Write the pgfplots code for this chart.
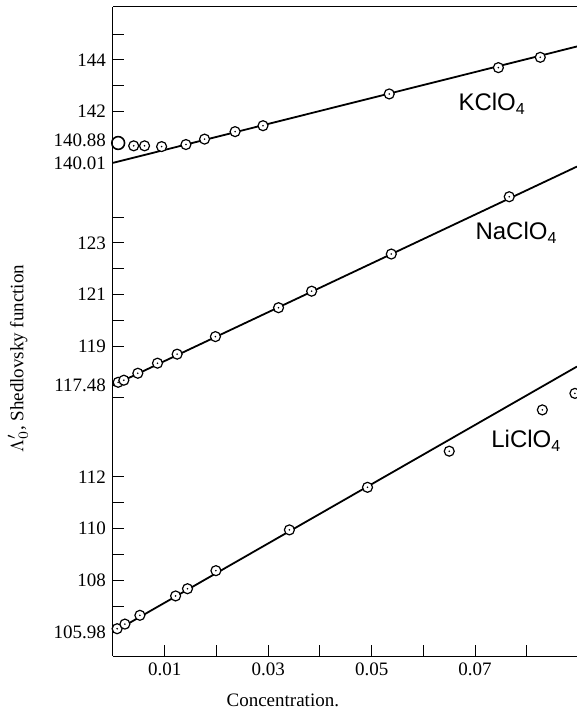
\documentclass[border=0pt]{standalone}
\usepackage{fontspec}
\setmainfont{Liberation Serif}
\newfontfamily\chemfont{Liberation Sans}
\usepackage{pgfplots}
\usepackage{pgfplotstable}
\pgfplotsset{compat=1.18}

% circle with a centre dot, as in the scan
\pgfdeclareplotmark{odot}{%
  \pgfpathcircle{\pgfpointorigin}{\pgfplotmarksize}%
  \pgfsetfillcolor{white}\pgfusepathqfillstroke
  \pgfpathcircle{\pgfpointorigin}{0.45pt}%
  \pgfsetfillcolor{black}\pgfusepathqfill}

% the y axis is broken in three parts; each part is shifted onto one scale
\def\offK{0}
\def\offNa{13.907}
\def\offLi{15.837}

\pgfplotstableread{
x v
0.0040 140.67
0.0061 140.67
0.0094 140.64
0.0141 140.72
0.0177 140.93
0.0236 141.22
0.0290 141.45
0.0534 142.68
0.0745 143.70
0.0826 144.10
}\kpts
\pgfplotstableread{
x v
0.0010 117.60
0.0021 117.68
0.0048 117.95
0.0086 118.34
0.0124 118.69
0.0198 119.37
0.0320 120.49
0.0384 121.13
0.0538 122.57
0.0766 124.79
}\napts
\pgfplotstableread{
x v
0.0008 106.12
0.0023 106.30
0.0052 106.64
0.0121 107.39
0.0144 107.67
0.0199 108.37
0.0341 109.95
0.0492 111.60
0.0650 113.00
0.0830 114.60
0.0893 115.24
}\lipts

\begin{document}
\begin{tikzpicture}
\begin{axis}[
  scale only axis, width=232pt, height=324.5pt,
  xmin=0, xmax=0.0897, ymin=120.90, ymax=146.05,
  axis lines*=left, axis line style={line width=0.5pt},
  tick align=inside, major tick length=5.5pt,
  tick style={black, line width=0.5pt},
  scaled x ticks=false, scaled y ticks=false,
  xtick={0.01,0.02,0.03,0.04,0.05,0.06,0.07,0.08},
  xticklabels={0.01,,0.03,,0.05,,0.07,},
  ytick={145,144,143,142,
         137.907,136.907,135.907,134.907,133.907,132.907,130.907,
         127.837,126.837,125.837,124.837,123.837,122.837},
  yticklabels={,144,,142,,123,,121,,119,,112,,110,,108,},
  extra y ticks={140.88,140.01,131.387,121.817},
  extra y tick labels={140.88,140.01,117.48,105.98},
  extra y tick style={major tick length=0pt},
  ticklabel style={font=\fontsize{9.5}{11}\selectfont},
  xlabel={Concentration.},
  ylabel={$\Lambda_0'$, Shedlovsky function},
  label style={font=\fontsize{9.5}{11}\selectfont},
  xlabel style={at={(axis description cs:0.366,-0.068)}, anchor=center},
  ylabel style={at={(axis description cs:-0.205,0.458)}, anchor=center},
  mark size=2.5pt,
]
% fitted lines
\addplot[black, line width=0.9pt] table[y expr=\thisrow{v}+\offK] {
x v
0 140.01
0.0897 144.52
};
\addplot[black, line width=0.9pt] table[y expr=\thisrow{v}+\offNa] {
x v
0 117.48
0.0897 125.96
};
\addplot[black, line width=0.9pt] table[y expr=\thisrow{v}+\offLi] {
x v
0 105.98
0.0897 116.28
};
% measured points
\addplot[only marks, mark=odot, mark options={black, line width=0.6pt}]
  table[y expr=\thisrow{v}+\offK] {\kpts};
\addplot[only marks, mark=o, mark size=3.2pt, mark options={black, line width=0.8pt}]
  table[y expr=\thisrow{v}+\offK] {
x v
0.0010 140.78
};
\addplot[only marks, mark=odot, mark options={black, line width=0.6pt}]
  table[y expr=\thisrow{v}+\offNa] {\napts};
\addplot[only marks, mark=odot, mark options={black, line width=0.6pt}]
  table[y expr=\thisrow{v}+\offLi] {\lipts};

\node[font=\chemfont\fontsize{12}{14}\selectfont] at (axis cs:0.0733,142.29) {KClO\textsubscript{4}};
\node[font=\chemfont\fontsize{12}{14}\selectfont] at (axis cs:0.0780,137.29) {NaClO\textsubscript{4}};
\node[font=\chemfont\fontsize{12}{14}\selectfont] at (axis cs:0.0799,129.23) {LiClO\textsubscript{4}};

\draw[line width=0.5pt] (rel axis cs:0,1) -- (rel axis cs:1,1);
\coordinate (sw) at (rel axis cs:0,0);
\coordinate (ne) at (rel axis cs:1,1);
\end{axis}
\pgfresetboundingbox
\path ([shift={(-56.5pt,-27.5pt)}]sw) rectangle ([shift={(0pt,3.5pt)}]ne);
\end{tikzpicture}
\end{document}
